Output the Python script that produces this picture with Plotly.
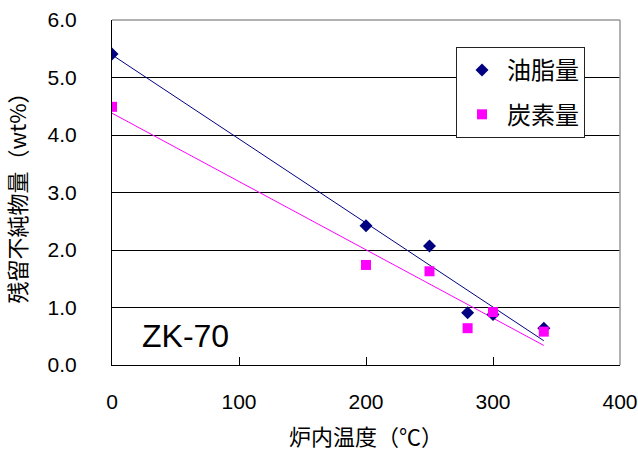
import numpy as np
import plotly.graph_objects as go

temps = [0, 200, 250, 280, 300, 340]
oil = [5.41, 2.42, 2.07, 0.91, 0.88, 0.64]
carbon = [4.49, 1.74, 1.63, 0.64, 0.92, 0.58]
series_names = ["油脂量", "炭素量"]
series_colors = ["#000080", "#FF00FF"]
series_symbols = ["diamond", "square"]
x_ticks = [0, 100, 200, 300, 400]
y_ticks = [0, 1, 2, 3, 4, 5, 6]
label_text = "ZK-70"

fig = go.Figure()
fit_x = np.array([min(temps), max(temps)], dtype=float)
for name, vals, col, sym in zip(series_names, [oil, carbon], series_colors, series_symbols):
    k, b = np.polyfit(temps, vals, 1)
    fig.add_trace(go.Scatter(x=fit_x, y=k * fit_x + b, mode="lines",
                             line=dict(color=col, width=1), showlegend=False,
                             hoverinfo="skip"))
for i, (name, vals, col, sym) in enumerate(zip(series_names, [oil, carbon], series_colors, series_symbols)):
    fig.add_trace(go.Scatter(x=temps, y=vals, mode="markers", name=name,
                             legendgroup=f"g{i}",
                             marker=dict(symbol=sym, color=col, size=10,
                                         line=dict(width=0))))

tick_font = dict(family="Liberation Sans, Arial, sans-serif", size=21, color="black")
cjk_font = dict(family="Noto Sans CJK JP, sans-serif", size=22, color="black")

fig.update_layout(
    width=638, height=454,
    margin=dict(l=112, r=18, t=20, b=89, autoexpand=False),
    paper_bgcolor="white", plot_bgcolor="white",
    showlegend=True,
    legend=dict(x=(456 - 112) / 508, y=(365 - 47) / 345, xanchor="left", yanchor="top",
                bgcolor="white", bordercolor="#222222", borderwidth=1,
                font=dict(family="Noto Sans CJK JP, sans-serif", size=24, color="black"),
                traceorder="grouped", tracegroupgap=10, itemwidth=40),
    xaxis=dict(range=[0, 400], tickvals=x_ticks, ticks="inside", ticklen=8,
               tickcolor="black", showline=True, linecolor="black", linewidth=1,
               showgrid=False, zeroline=False, tickfont=tick_font,
               ticklabelstandoff=18, automargin=False,
               title=dict(text="炉内温度（℃）", font=cjk_font, standoff=17)),
    yaxis=dict(range=[0, 6], tickvals=y_ticks, tickformat=".1f", ticks="inside",
               ticklen=8, tickcolor="black", showline=True, linecolor="black",
               linewidth=1, showgrid=True, gridcolor="black", gridwidth=1,
               zeroline=False, tickfont=tick_font, ticklabelstandoff=30,
               automargin=False,
               title=dict(text="残留不純物量（wt%）", font=cjk_font, standoff=14)),
)

fig.add_shape(type="line", xref="paper", yref="paper", x0=0, x1=1, y0=1, y1=1,
              line=dict(color="#999999", width=1.5), layer="above")
fig.add_shape(type="line", xref="paper", yref="paper", x0=1, x1=1, y0=0, y1=1,
              line=dict(color="#999999", width=1.5), layer="above")

fig.add_annotation(x=58, y=0.51, xref="x", yref="y", text=label_text, showarrow=False,
                   font=dict(family="Liberation Sans, Arial, sans-serif", size=32, color="black"))

fig.write_html("out.html", config={"displayModeBar": False},
               post_script="document.body.style.margin='0';document.body.style.overflow='hidden';")
